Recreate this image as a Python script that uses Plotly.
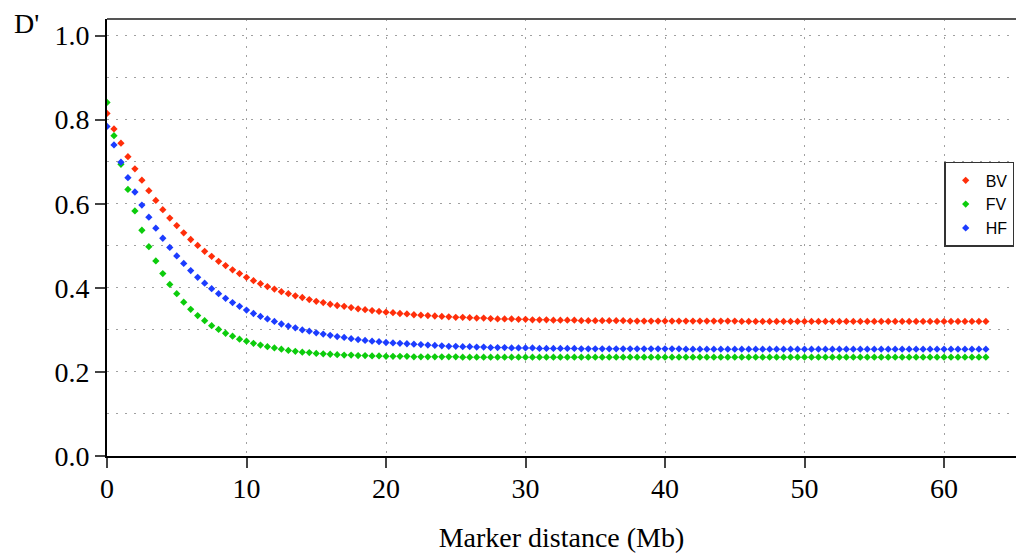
import plotly.graph_objects as go

# Marker distance in Mb (one point every 0.5 Mb)
distance_mb = [
    0.0, 0.5, 1.0, 1.5, 2.0, 2.5, 3.0, 3.5, 4.0, 4.5,
    5.0, 5.5, 6.0, 6.5, 7.0, 7.5, 8.0, 8.5, 9.0, 9.5,
    10.0, 10.5, 11.0, 11.5, 12.0, 12.5, 13.0, 13.5, 14.0, 14.5,
    15.0, 15.5, 16.0, 16.5, 17.0, 17.5, 18.0, 18.5, 19.0, 19.5,
    20.0, 20.5, 21.0, 21.5, 22.0, 22.5, 23.0, 23.5, 24.0, 24.5,
    25.0, 25.5, 26.0, 26.5, 27.0, 27.5, 28.0, 28.5, 29.0, 29.5,
    30.0, 30.5, 31.0, 31.5, 32.0, 32.5, 33.0, 33.5, 34.0, 34.5,
    35.0, 35.5, 36.0, 36.5, 37.0, 37.5, 38.0, 38.5, 39.0, 39.5,
    40.0, 40.5, 41.0, 41.5, 42.0, 42.5, 43.0, 43.5, 44.0, 44.5,
    45.0, 45.5, 46.0, 46.5, 47.0, 47.5, 48.0, 48.5, 49.0, 49.5,
    50.0, 50.5, 51.0, 51.5, 52.0, 52.5, 53.0, 53.5, 54.0, 54.5,
    55.0, 55.5, 56.0, 56.5, 57.0, 57.5, 58.0, 58.5, 59.0, 59.5,
    60.0, 60.5, 61.0, 61.5, 62.0, 62.5, 63.0,
]

# D' decay for each population
dprime_bv = [
    0.815, 0.778, 0.744, 0.712, 0.683, 0.656, 0.631, 0.608, 0.586, 0.566,
    0.548, 0.531, 0.515, 0.501, 0.487, 0.475, 0.463, 0.453, 0.443, 0.434,
    0.425, 0.417, 0.410, 0.403, 0.397, 0.391, 0.386, 0.381, 0.377, 0.372,
    0.368, 0.365, 0.361, 0.358, 0.356, 0.353, 0.350, 0.348, 0.346, 0.344,
    0.342, 0.341, 0.339, 0.338, 0.336, 0.335, 0.334, 0.333, 0.332, 0.331,
    0.330, 0.330, 0.329, 0.328, 0.328, 0.327, 0.326, 0.326, 0.326, 0.325,
    0.325, 0.324, 0.324, 0.324, 0.323, 0.323, 0.323, 0.323, 0.322, 0.322,
    0.322, 0.322, 0.322, 0.322, 0.322, 0.321, 0.321, 0.321, 0.321, 0.321,
    0.321, 0.321, 0.321, 0.321, 0.321, 0.321, 0.321, 0.321, 0.321, 0.321,
    0.321, 0.320, 0.320, 0.320, 0.320, 0.320, 0.320, 0.320, 0.320, 0.320,
    0.320, 0.320, 0.320, 0.320, 0.320, 0.320, 0.320, 0.320, 0.320, 0.320,
    0.320, 0.320, 0.320, 0.320, 0.320, 0.320, 0.320, 0.320, 0.320, 0.320,
    0.320, 0.320, 0.320, 0.320, 0.320, 0.320, 0.320,
]

dprime_fv = [
    0.841, 0.762, 0.694, 0.634, 0.583, 0.537, 0.498, 0.464, 0.434, 0.408,
    0.386, 0.366, 0.349, 0.334, 0.322, 0.310, 0.301, 0.292, 0.285, 0.278,
    0.273, 0.268, 0.264, 0.260, 0.257, 0.254, 0.251, 0.249, 0.247, 0.246,
    0.244, 0.243, 0.242, 0.241, 0.240, 0.240, 0.239, 0.239, 0.238, 0.238,
    0.237, 0.237, 0.237, 0.237, 0.236, 0.236, 0.236, 0.236, 0.236, 0.236,
    0.236, 0.235, 0.235, 0.235, 0.235, 0.235, 0.235, 0.235, 0.235, 0.235,
    0.235, 0.235, 0.235, 0.235, 0.235, 0.235, 0.235, 0.235, 0.235, 0.235,
    0.235, 0.235, 0.235, 0.235, 0.235, 0.235, 0.235, 0.235, 0.235, 0.235,
    0.235, 0.235, 0.235, 0.235, 0.235, 0.235, 0.235, 0.235, 0.235, 0.235,
    0.235, 0.235, 0.235, 0.235, 0.235, 0.235, 0.235, 0.235, 0.235, 0.235,
    0.235, 0.235, 0.235, 0.235, 0.235, 0.235, 0.235, 0.235, 0.235, 0.235,
    0.235, 0.235, 0.235, 0.235, 0.235, 0.235, 0.235, 0.235, 0.235, 0.235,
    0.235, 0.235, 0.235, 0.235, 0.235, 0.235, 0.235,
]

dprime_hf = [
    0.784, 0.740, 0.699, 0.662, 0.628, 0.597, 0.568, 0.542, 0.518, 0.496,
    0.476, 0.458, 0.441, 0.425, 0.411, 0.398, 0.386, 0.375, 0.365, 0.356,
    0.347, 0.339, 0.332, 0.326, 0.320, 0.314, 0.309, 0.305, 0.300, 0.297,
    0.293, 0.290, 0.287, 0.284, 0.282, 0.279, 0.277, 0.275, 0.273, 0.272,
    0.270, 0.269, 0.268, 0.267, 0.266, 0.265, 0.264, 0.263, 0.262, 0.261,
    0.261, 0.260, 0.260, 0.259, 0.259, 0.258, 0.258, 0.258, 0.257, 0.257,
    0.257, 0.257, 0.256, 0.256, 0.256, 0.256, 0.256, 0.256, 0.255, 0.255,
    0.255, 0.255, 0.255, 0.255, 0.255, 0.255, 0.255, 0.255, 0.255, 0.255,
    0.255, 0.255, 0.255, 0.254, 0.254, 0.254, 0.254, 0.254, 0.254, 0.254,
    0.254, 0.254, 0.254, 0.254, 0.254, 0.254, 0.254, 0.254, 0.254, 0.254,
    0.254, 0.254, 0.254, 0.254, 0.254, 0.254, 0.254, 0.254, 0.254, 0.254,
    0.254, 0.254, 0.254, 0.254, 0.254, 0.254, 0.254, 0.254, 0.254, 0.254,
    0.254, 0.254, 0.254, 0.254, 0.254, 0.254, 0.254,
]

series_names = ["BV", "FV", "HF"]
series_values = [dprime_bv, dprime_fv, dprime_hf]
series_colors = ["#ff2e0a", "#0ccc0c", "#1c3cff"]

x_ticks = [0, 10, 20, 30, 40, 50, 60]
y_ticks = [0.0, 0.2, 0.4, 0.6, 0.8, 1.0]
y_tick_text = ["0.0", "0.2", "0.4", "0.6", "0.8", "1.0"]

SERIF = "Liberation Serif"
SANS = "Liberation Sans"
GRID_DASH = "2px,7px"
serif_font = dict(family=SERIF, size=28, color="black")

fig = go.Figure()
for name, values, color in zip(series_names, series_values, series_colors):
    fig.add_trace(go.Scatter(
        x=distance_mb, y=values, name=name, mode="markers",
        marker=dict(symbol="diamond", size=5.6, color=color, line=dict(width=0)),
    ))

fig.update_layout(
    width=1016, height=553,
    margin=dict(l=107, r=0, t=19, b=95),
    paper_bgcolor="white", plot_bgcolor="white",
    font=serif_font,
    showlegend=True,
    legend=dict(
        x=0.921, xanchor="left", y=0.673, yanchor="top",
        bgcolor="white", bordercolor="#333333", borderwidth=1.5,
        font=dict(family=SANS, size=16, color="black"),
    ),
    xaxis=dict(
        range=[0, 65.16], tickvals=x_ticks,
        showline=True, linecolor="black", linewidth=2,
        ticks="outside", ticklen=10, tickwidth=1.5, tickcolor="#444444",
        tickfont=serif_font, ticklabelstandoff=-4,
        showgrid=True, gridcolor="#a0a0a0", gridwidth=1, griddash=GRID_DASH,
        zeroline=False,
        title=dict(text="Marker distance (Mb)", standoff=30, font=serif_font),
    ),
    yaxis=dict(
        range=[0, 1.0395], tickvals=y_ticks, ticktext=y_tick_text,
        showline=True, linecolor="black", linewidth=2,
        ticks="outside", ticklen=10, tickwidth=1.5, tickcolor="#444444",
        tickfont=serif_font,
        showgrid=True, gridcolor="#a0a0a0", gridwidth=1, griddash=GRID_DASH,
        minor=dict(dtick=0.1, tick0=0, showgrid=True, gridcolor="#a0a0a0",
                   gridwidth=1, griddash=GRID_DASH, ticks=""),
        zeroline=False,
    ),
    annotations=[dict(
        text="D'", xref="paper", yref="paper", x=-0.1045, y=0.989,
        xanchor="left", yanchor="middle", showarrow=False,
        font=serif_font,
    )],
    shapes=[dict(
        type="line", xref="paper", yref="paper", x0=0, x1=1, y0=1, y1=1,
        line=dict(color="#555555", width=2),
    )],
)

fig.write_html("out.html")
